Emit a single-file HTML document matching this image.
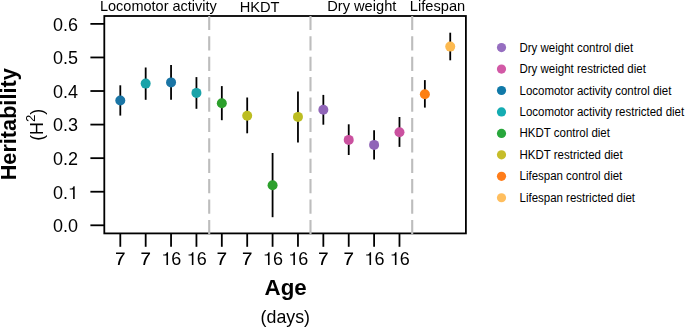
<!DOCTYPE html>
<html><head><meta charset="utf-8"><style>
html,body{margin:0;padding:0;background:#fff;}
body{width:685px;height:327px;overflow:hidden;position:relative;}
svg{display:block;position:absolute;top:0;}
#plot{left:0;will-change:transform;}
#leg{left:480px;}
text{font-family:"Liberation Sans",sans-serif;fill:#000;}
.ax{font-size:18px;}
.grp{font-size:14.65px;}
.big{font-size:22.3px;font-weight:bold;}
.bigy{font-size:21.7px;font-weight:bold;}
.mid{font-size:17.8px;}
.leg{font-size:11.5px;fill:#000;}
</style></head><body>
<svg id="plot" width="480" height="327" viewBox="0 0 480 327">
<rect x="104.3" y="16.0" width="361.59999999999997" height="217.4" fill="none" stroke="#000" stroke-width="1.8"/>
<line x1="209.2" y1="15.9" x2="209.2" y2="234.4" stroke="#bdbdbd" stroke-width="2.1" stroke-dasharray="14.2 6.2"/>
<line x1="310.5" y1="15.9" x2="310.5" y2="234.4" stroke="#bdbdbd" stroke-width="2.1" stroke-dasharray="14.2 6.2"/>
<line x1="412.2" y1="15.9" x2="412.2" y2="234.4" stroke="#bdbdbd" stroke-width="2.1" stroke-dasharray="14.2 6.2"/>
<line x1="90.4" y1="225.30" x2="104.3" y2="225.30" stroke="#000" stroke-width="1.8"/>
<text x="78.0" y="232.20" text-anchor="end" class="ax">0.0</text>
<line x1="90.4" y1="191.73" x2="104.3" y2="191.73" stroke="#000" stroke-width="1.8"/>
<text x="67.99" y="198.63" text-anchor="end" class="ax">0.</text>
<path transform="translate(67.99,199.00) scale(18,-18)" d="M0.372,0L0.284,0L0.284,0.53L0.100,0.53L0.100,0.58C0.180,0.586 0.220,0.593 0.250,0.612C0.280,0.634 0.295,0.660 0.306,0.709L0.372,0.709Z" fill="#000"/>
<line x1="90.4" y1="158.16" x2="104.3" y2="158.16" stroke="#000" stroke-width="1.8"/>
<text x="78.0" y="165.06" text-anchor="end" class="ax">0.2</text>
<line x1="90.4" y1="124.59" x2="104.3" y2="124.59" stroke="#000" stroke-width="1.8"/>
<text x="78.0" y="131.49" text-anchor="end" class="ax">0.3</text>
<line x1="90.4" y1="91.02" x2="104.3" y2="91.02" stroke="#000" stroke-width="1.8"/>
<text x="78.0" y="97.92" text-anchor="end" class="ax">0.4</text>
<line x1="90.4" y1="57.45" x2="104.3" y2="57.45" stroke="#000" stroke-width="1.8"/>
<text x="78.0" y="64.35" text-anchor="end" class="ax">0.5</text>
<line x1="90.4" y1="23.88" x2="104.3" y2="23.88" stroke="#000" stroke-width="1.8"/>
<text x="78.0" y="30.78" text-anchor="end" class="ax">0.6</text>
<line x1="120.30" y1="233.4" x2="120.30" y2="246.8" stroke="#000" stroke-width="1.8"/>
<path transform="translate(115.30,265.00) scale(18,-18)" d="M0.04,0.69L0.52,0.69L0.52,0.625C0.40,0.47 0.28,0.28 0.24,0L0.14,0C0.165,0.25 0.27,0.44 0.42,0.605L0.04,0.605Z" fill="#000"/>
<line x1="145.68" y1="233.4" x2="145.68" y2="246.8" stroke="#000" stroke-width="1.8"/>
<path transform="translate(140.68,265.00) scale(18,-18)" d="M0.04,0.69L0.52,0.69L0.52,0.625C0.40,0.47 0.28,0.28 0.24,0L0.14,0C0.165,0.25 0.27,0.44 0.42,0.605L0.04,0.605Z" fill="#000"/>
<line x1="171.06" y1="233.4" x2="171.06" y2="246.8" stroke="#000" stroke-width="1.8"/>
<path transform="translate(161.35,265.00) scale(18,-18)" d="M0.372,0L0.284,0L0.284,0.53L0.100,0.53L0.100,0.58C0.180,0.586 0.220,0.593 0.250,0.612C0.280,0.634 0.295,0.660 0.306,0.709L0.372,0.709Z" fill="#000"/>
<text x="171.36" y="265" class="ax">6</text>
<line x1="196.44" y1="233.4" x2="196.44" y2="246.8" stroke="#000" stroke-width="1.8"/>
<path transform="translate(186.73,265.00) scale(18,-18)" d="M0.372,0L0.284,0L0.284,0.53L0.100,0.53L0.100,0.58C0.180,0.586 0.220,0.593 0.250,0.612C0.280,0.634 0.295,0.660 0.306,0.709L0.372,0.709Z" fill="#000"/>
<text x="196.74" y="265" class="ax">6</text>
<line x1="221.82" y1="233.4" x2="221.82" y2="246.8" stroke="#000" stroke-width="1.8"/>
<path transform="translate(216.82,265.00) scale(18,-18)" d="M0.04,0.69L0.52,0.69L0.52,0.625C0.40,0.47 0.28,0.28 0.24,0L0.14,0C0.165,0.25 0.27,0.44 0.42,0.605L0.04,0.605Z" fill="#000"/>
<line x1="247.20" y1="233.4" x2="247.20" y2="246.8" stroke="#000" stroke-width="1.8"/>
<path transform="translate(242.20,265.00) scale(18,-18)" d="M0.04,0.69L0.52,0.69L0.52,0.625C0.40,0.47 0.28,0.28 0.24,0L0.14,0C0.165,0.25 0.27,0.44 0.42,0.605L0.04,0.605Z" fill="#000"/>
<line x1="272.58" y1="233.4" x2="272.58" y2="246.8" stroke="#000" stroke-width="1.8"/>
<path transform="translate(262.87,265.00) scale(18,-18)" d="M0.372,0L0.284,0L0.284,0.53L0.100,0.53L0.100,0.58C0.180,0.586 0.220,0.593 0.250,0.612C0.280,0.634 0.295,0.660 0.306,0.709L0.372,0.709Z" fill="#000"/>
<text x="272.88" y="265" class="ax">6</text>
<line x1="297.96" y1="233.4" x2="297.96" y2="246.8" stroke="#000" stroke-width="1.8"/>
<path transform="translate(288.25,265.00) scale(18,-18)" d="M0.372,0L0.284,0L0.284,0.53L0.100,0.53L0.100,0.58C0.180,0.586 0.220,0.593 0.250,0.612C0.280,0.634 0.295,0.660 0.306,0.709L0.372,0.709Z" fill="#000"/>
<text x="298.26" y="265" class="ax">6</text>
<line x1="323.34" y1="233.4" x2="323.34" y2="246.8" stroke="#000" stroke-width="1.8"/>
<path transform="translate(318.34,265.00) scale(18,-18)" d="M0.04,0.69L0.52,0.69L0.52,0.625C0.40,0.47 0.28,0.28 0.24,0L0.14,0C0.165,0.25 0.27,0.44 0.42,0.605L0.04,0.605Z" fill="#000"/>
<line x1="348.72" y1="233.4" x2="348.72" y2="246.8" stroke="#000" stroke-width="1.8"/>
<path transform="translate(343.72,265.00) scale(18,-18)" d="M0.04,0.69L0.52,0.69L0.52,0.625C0.40,0.47 0.28,0.28 0.24,0L0.14,0C0.165,0.25 0.27,0.44 0.42,0.605L0.04,0.605Z" fill="#000"/>
<line x1="374.10" y1="233.4" x2="374.10" y2="246.8" stroke="#000" stroke-width="1.8"/>
<path transform="translate(364.39,265.00) scale(18,-18)" d="M0.372,0L0.284,0L0.284,0.53L0.100,0.53L0.100,0.58C0.180,0.586 0.220,0.593 0.250,0.612C0.280,0.634 0.295,0.660 0.306,0.709L0.372,0.709Z" fill="#000"/>
<text x="374.40" y="265" class="ax">6</text>
<line x1="399.48" y1="233.4" x2="399.48" y2="246.8" stroke="#000" stroke-width="1.8"/>
<path transform="translate(389.77,265.00) scale(18,-18)" d="M0.372,0L0.284,0L0.284,0.53L0.100,0.53L0.100,0.58C0.180,0.586 0.220,0.593 0.250,0.612C0.280,0.634 0.295,0.660 0.306,0.709L0.372,0.709Z" fill="#000"/>
<text x="399.78" y="265" class="ax">6</text>
<line x1="120.30" y1="85.3" x2="120.30" y2="115.6" stroke="#000" stroke-width="1.8"/>
<circle cx="120.30" cy="100.5" r="5.0" fill="#1a75a5"/>
<line x1="145.68" y1="67.5" x2="145.68" y2="99.8" stroke="#000" stroke-width="1.8"/>
<circle cx="145.68" cy="83.6" r="5.0" fill="#1aa3a9"/>
<line x1="171.06" y1="65.1" x2="171.06" y2="99.8" stroke="#000" stroke-width="1.8"/>
<circle cx="171.06" cy="82.4" r="5.0" fill="#1a75a5"/>
<line x1="196.44" y1="77.1" x2="196.44" y2="108.8" stroke="#000" stroke-width="1.8"/>
<circle cx="196.44" cy="92.9" r="5.0" fill="#1aa3a9"/>
<line x1="221.82" y1="86.1" x2="221.82" y2="120.2" stroke="#000" stroke-width="1.8"/>
<circle cx="221.82" cy="103.3" r="5.0" fill="#2ca02c"/>
<line x1="247.20" y1="97.5" x2="247.20" y2="133.3" stroke="#000" stroke-width="1.8"/>
<circle cx="247.20" cy="115.7" r="5.0" fill="#bcbd22"/>
<line x1="272.58" y1="153.0" x2="272.58" y2="217.2" stroke="#000" stroke-width="1.8"/>
<circle cx="272.58" cy="185.3" r="5.0" fill="#2ca02c"/>
<line x1="297.96" y1="91.5" x2="297.96" y2="142.4" stroke="#000" stroke-width="1.8"/>
<circle cx="297.96" cy="116.9" r="5.0" fill="#bcbd22"/>
<line x1="323.34" y1="94.9" x2="323.34" y2="124.7" stroke="#000" stroke-width="1.8"/>
<circle cx="323.34" cy="109.7" r="5.0" fill="#9065b8"/>
<line x1="348.72" y1="124.3" x2="348.72" y2="155.0" stroke="#000" stroke-width="1.8"/>
<circle cx="348.72" cy="139.9" r="5.0" fill="#ca519f"/>
<line x1="374.10" y1="130.2" x2="374.10" y2="159.4" stroke="#000" stroke-width="1.8"/>
<circle cx="374.10" cy="144.9" r="5.0" fill="#9065b8"/>
<line x1="399.48" y1="117.0" x2="399.48" y2="146.9" stroke="#000" stroke-width="1.8"/>
<circle cx="399.48" cy="132.2" r="5.0" fill="#ca519f"/>
<line x1="424.86" y1="80.1" x2="424.86" y2="107.6" stroke="#000" stroke-width="1.8"/>
<circle cx="424.86" cy="94.2" r="5.0" fill="#fd7f12"/>
<line x1="450.24" y1="32.7" x2="450.24" y2="60.3" stroke="#000" stroke-width="1.8"/>
<circle cx="450.24" cy="46.6" r="5.0" fill="#fdba50"/>
<text x="158.4" y="10.7" text-anchor="middle" class="grp" style="font-size:14.5px">Locomotor activity</text>
<text x="259.6" y="12.1" text-anchor="middle" class="grp">HKDT</text>
<text x="361.8" y="10.7" text-anchor="middle" class="grp">Dry weight</text>
<text x="437.5" y="10.7" text-anchor="middle" class="grp">Lifespan</text>
<text x="285.6" y="294.8" text-anchor="middle" class="big">Age</text>
<text x="285.3" y="322.6" text-anchor="middle" class="mid">(days)</text>
<text transform="translate(15.8,124.3) rotate(-90)" text-anchor="middle" class="bigy">Heritability</text>
<text transform="translate(42.7,124.8) rotate(-90)" text-anchor="middle" class="mid">(H<tspan dy="-7.7" font-size="13.2">2</tspan><tspan dy="7.7">)</tspan></text>
</svg>
<svg id="leg" width="205" height="327" viewBox="0 0 205 327">
<circle cx="21.5" cy="47.60" r="4.6" fill="#966ec0"/>
<text transform="translate(39.5,51.60) scale(1,1.08)" class="leg">Dry weight control diet</text>
<circle cx="21.5" cy="69.05" r="4.6" fill="#d259a6"/>
<text transform="translate(39.5,73.05) scale(1,1.08)" class="leg">Dry weight restricted diet</text>
<circle cx="21.5" cy="90.50" r="4.6" fill="#1079a8"/>
<text transform="translate(39.5,94.50) scale(1,1.08)" class="leg">Locomotor activity control diet</text>
<circle cx="21.5" cy="111.95" r="4.6" fill="#15acb2"/>
<text transform="translate(39.5,115.95) scale(1,1.08)" class="leg">Locomotor activity restricted diet</text>
<circle cx="21.5" cy="133.40" r="4.6" fill="#28a73c"/>
<text transform="translate(39.5,137.40) scale(1,1.08)" class="leg">HKDT control diet</text>
<circle cx="21.5" cy="154.85" r="4.6" fill="#c6bd2a"/>
<text transform="translate(39.5,158.85) scale(1,1.08)" class="leg">HKDT restricted diet</text>
<circle cx="21.5" cy="176.30" r="4.6" fill="#ff7d1a"/>
<text transform="translate(39.5,180.30) scale(1,1.08)" class="leg">Lifespan control diet</text>
<circle cx="21.5" cy="197.75" r="4.6" fill="#ffbe5e"/>
<text transform="translate(39.5,201.75) scale(1,1.08)" class="leg">Lifespan restricted diet</text>
</svg>
</body></html>
